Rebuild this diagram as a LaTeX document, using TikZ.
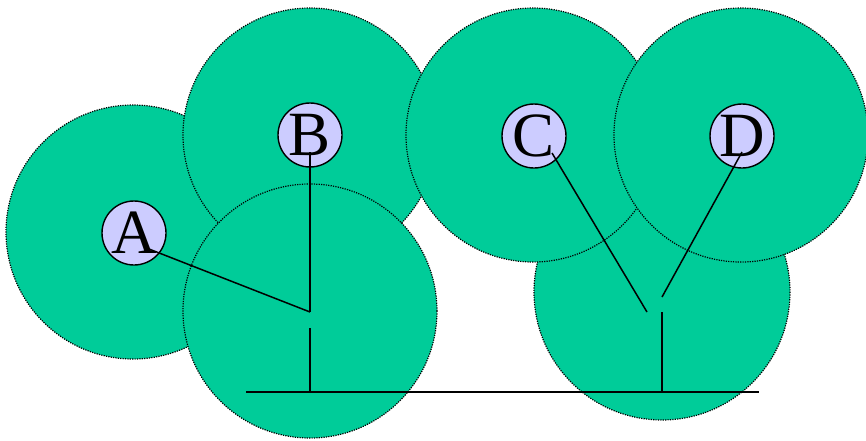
\documentclass[tikz,border=0pt]{standalone}
\usepackage{fontspec}
\setmainfont{Liberation Serif}
\definecolor{zone}{HTML}{00CC99}
\definecolor{nodefill}{HTML}{CCCCFF}
\begin{document}
\begin{tikzpicture}[x=1pt,y=-1pt,
  zonecircle/.style={fill=zone,draw=black,line width=1.2pt,dash pattern=on 1.2pt off 1.2pt},
  station/.style={circle,draw=black,line width=1.4pt,fill=nodefill,minimum size=64pt,inner sep=0pt,font=\fontsize{63}{64}\selectfont},
  wire/.style={draw=black,line width=1.5pt}]
\useasboundingbox (0,0) rectangle (866,440);
% coverage circles
\path[zonecircle] (133,232) circle[radius=127];
\path[zonecircle] (310,135) circle[radius=127];
\path[zonecircle] (310,311) circle[radius=127];
\path[zonecircle] (662,292) circle[radius=128];
\path[zonecircle] (533,135) circle[radius=127];
\path[zonecircle] (741,135) circle[radius=127];
% stations
\node[station] (A) at (134,233) {A};
\node[station] (B) at (310,135) {B};
\node[station] (C) at (534,136) {C};
\node[station] (D) at (742,136) {D};
% coordinates
\coordinate (a0) at (149,249);
\coordinate (b0) at (310,152);
\coordinate (j1) at (310,312);
\coordinate (j1b) at (310,328);
\coordinate (h1) at (310,392);
\coordinate (hl) at (246,392);
\coordinate (hr) at (759,392);
\coordinate (c0) at (552,153);
\coordinate (c1) at (647,312);
\coordinate (d0) at (742,152);
\coordinate (d1) at (662,297);
\coordinate (j2) at (662,312);
\coordinate (h2) at (662,392);
% wires
\draw[wire] (a0) -- (j1);
\draw[wire] (b0) -- (j1);
\draw[wire] (j1b) -- (h1);
\draw[wire] (hl) -- (hr);
\draw[wire] (c0) -- (c1);
\draw[wire] (d0) -- (d1);
\draw[wire] (j2) -- (h2);
\end{tikzpicture}
\end{document}
